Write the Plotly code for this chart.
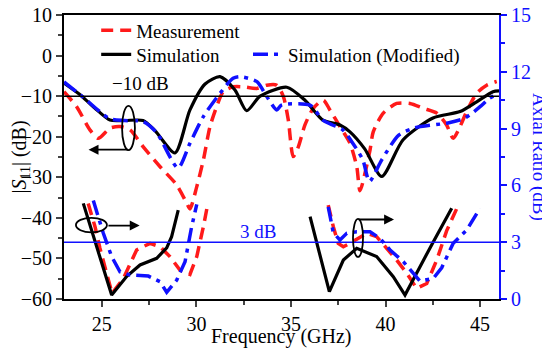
import plotly.graph_objects as go

# ---------------- data ----------------
# |S11| (dB) vs frequency (GHz)
meas_s11_f = [23.0, 23.67, 24.37, 24.81, 25.43, 25.96, 26.49, 27.19, 28.08, 28.96, 29.49, 29.66,
              30.02, 30.37, 30.72, 31.07, 31.42, 31.95, 32.48, 33.19, 33.72, 34.25, 34.6, 34.86,
              35.12, 35.39, 35.74, 36.18, 36.71, 37.06, 37.59, 38.12, 38.48, 38.65, 39.18, 39.35,
              39.88, 40.59, 41.29, 42.0, 42.71, 43.23, 43.58, 43.94, 44.29, 44.82, 45.35, 45.88]
meas_s11 = [-8.9, -12.6, -18.3, -20.4, -17.9, -17.5, -18.3, -22.5, -27.4, -31.9, -36.4, -37.8,
            -32.3, -25.7, -17.5, -12.6, -8.9, -7.7, -7.7, -8.1, -7.3, -7.3, -10.1, -15.9,
            -24.9, -22.5, -17.1, -13.0, -11.0, -13.4, -17.5, -21.6, -27.4, -33.3, -23.3, -18.8,
            -14.2, -11.8, -11.8, -13.0, -14.2, -17.1, -20.4, -17.5, -13.8, -9.3, -7.3, -6.4]

sim_s11_f = [23.0, 23.94, 24.64, 25.43, 26.22, 27.18, 27.81, 28.87, 29.66, 30.46, 31.25, 32.04,
             32.66, 33.37, 34.78, 35.74, 36.69, 37.59, 38.12, 38.9, 39.8, 40.92, 42.51, 43.94,
             44.82, 45.68, 46.0]
sim_s11 = [-6.8, -10.0, -13.0, -15.9, -16.0, -16.0, -18.5, -24.0, -13.4, -7.0, -5.2, -8.5,
           -13.6, -10.0, -7.8, -11.0, -15.9, -17.1, -18.8, -23.0, -29.8, -20.8, -15.4, -13.8,
           -11.4, -8.9, -8.7]

mod_s11_f = [23.0, 23.9, 25.4, 26.2, 27.2, 27.9, 29.03, 29.66, 30.36, 31.25, 31.94, 32.3, 33.2,
             33.72, 34.25, 34.5, 36.0, 36.69, 37.2, 37.74, 38.27, 38.8, 39.15, 39.8, 40.7,
             41.55, 43.3, 44.2, 45.0, 45.5, 45.85]
mod_s11 = [-6.5, -9.8, -15.5, -16.0, -16.3, -19.0, -27.7, -21.6, -15.1, -9.3, -5.6, -5.2, -6.4,
           -10.1, -13.4, -12.2, -12.2, -15.9, -17.1, -18.3, -21.6, -25.7, -31.0, -25.7, -19.6,
           -17.8, -16.6, -15.4, -12.6, -10.5, -9.7]

# Axial ratio (dB) vs frequency (GHz); None separates the two bands
meas_ar_f = [24.28, 24.64, 24.9, 25.26, 25.54, 26.14, 26.84, 27.55, 28.08, 28.6, 29.13, 29.66,
             30.02, 30.37, 30.59, None,
             36.97, 37.24, 37.5, 37.77, 38.12, 39.0, 39.53, 40.06, 40.59, 41.12, 41.65, 42.18,
             42.71, 43.23, 43.85]
meas_ar = [5.05, 3.82, 2.68, 1.36, 0.3, 1.09, 2.59, 2.94, 2.76, 2.24, 1.53, 1.3,
           2.24, 3.82, 4.96, None,
           4.96, 3.82, 2.94, 2.76, 2.94, 3.47, 3.29, 2.68, 2.06, 1.36, 0.56, 0.82,
           2.06, 3.6, 4.96]

sim_ar_f = [24.02, 25.52, 26.32, 27.02, 27.9, 28.43, 28.69, 29.04, None,
            36.01, 37.03, 37.77, 38.48, 39.53, 40.41, 41.03, 41.82, 42.53, 43.5]
sim_ar = [5.05, 0.21, 1.2, 1.8, 2.15, 2.7, 3.29, 4.7, None,
          4.35, 0.39, 2.06, 2.68, 2.24, 1.18, 0.21, 1.71, 3.03, 4.79]

mod_ar_f = [24.55, 25.08, 25.52, 25.96, 26.49, 27.46, 28.08, 28.43, 28.96, 29.4, 29.75, 30.02,
            None,
            36.97, 37.24, 37.59, 37.95, 38.48, 39.18, 39.71, 40.24, 40.94, 41.38, 41.82, 42.53,
            42.97, 43.58, 44.29, 44.99]
mod_ar = [5.2, 3.47, 2.24, 1.44, 1.27, 1.21, 0.91, 0.35, 1.0, 1.97, 3.82, 5.0,
          None,
          4.87, 3.5, 3.12, 3.47, 3.55, 3.55, 3.2, 2.59, 1.97, 1.44, 0.95, 1.09,
          1.65, 2.94, 3.64, 4.79]

names = ["Measurement", "Simulation", "Simulation (Modified)"]
ref_s11 = -10
ref_ar = 3

# ---------------- styles ----------------
FONT = "Liberation Serif, Times New Roman, serif"
RED, BLACK, BLUE = "#ff1a1a", "#000000", "#1010ff"
red_dash = "12px,7px"
blue_dash = "15px,6px,4px,6px"
FS = 20

fig = go.Figure()

fig.add_trace(go.Scatter(x=meas_s11_f, y=meas_s11, name=names[0], mode="lines",
                         line=dict(color=RED, width=3.5, dash=red_dash, shape="spline", smoothing=0.7),
                         legend="legend"))
fig.add_trace(go.Scatter(x=sim_s11_f, y=sim_s11, name=names[1], mode="lines",
                         line=dict(color=BLACK, width=3.2, shape="spline", smoothing=0.7),
                         legend="legend2"))
fig.add_trace(go.Scatter(x=mod_s11_f, y=mod_s11, name=names[2], mode="lines",
                         line=dict(color=BLUE, width=3.5, dash=blue_dash, shape="spline", smoothing=0.7),
                         legend="legend3"))

fig.add_trace(go.Scatter(x=meas_ar_f, y=meas_ar, yaxis="y2", mode="lines", showlegend=False,
                         line=dict(color=RED, width=3.5, dash=red_dash), connectgaps=False))
fig.add_trace(go.Scatter(x=sim_ar_f, y=sim_ar, yaxis="y2", mode="lines", showlegend=False,
                         line=dict(color=BLACK, width=3.2), connectgaps=False))
fig.add_trace(go.Scatter(x=mod_ar_f, y=mod_ar, yaxis="y2", mode="lines", showlegend=False,
                         line=dict(color=BLUE, width=3.5, dash=blue_dash), connectgaps=False))

# reference lines
fig.add_shape(type="line", xref="paper", x0=0, x1=1, yref="y", y0=ref_s11, y1=ref_s11,
              line=dict(color="black", width=1.5))
fig.add_shape(type="line", xref="paper", x0=0, x1=1, yref="y2", y0=ref_ar, y1=ref_ar,
              line=dict(color=BLUE, width=1.5))

# ellipses + arrows marking which axis each group belongs to
fig.add_shape(type="circle", xref="x", yref="y", x0=26.07, x1=26.75, y0=-12.4, y1=-23.3,
              line=dict(color="black", width=1.8))
fig.add_annotation(x=24.3, y=-23.2, ax=26.45, ay=-23.2, xref="x", yref="y", axref="x", ayref="y",
                   text="", showarrow=True, arrowhead=2, arrowsize=1.1, arrowwidth=1.8, arrowcolor="black")
fig.add_shape(type="circle", xref="x", yref="y2", x0=23.63, x1=25.27, y0=3.52, y1=4.29,
              line=dict(color="black", width=1.8))
fig.add_annotation(x=27.0, y=3.88, ax=25.27, ay=3.88, xref="x", yref="y2", axref="x", ayref="y2",
                   text="", showarrow=True, arrowhead=2, arrowsize=1.1, arrowwidth=1.8, arrowcolor="black")
fig.add_shape(type="circle", xref="x", yref="y2", x0=38.28, x1=38.81, y0=2.22, y1=4.23,
              line=dict(color="black", width=1.8))
fig.add_annotation(x=40.45, y=4.2, ax=38.5, ay=4.2, xref="x", yref="y2", axref="x", ayref="y2",
                   text="", showarrow=True, arrowhead=2, arrowsize=1.1, arrowwidth=1.8, arrowcolor="black")

fig.add_annotation(x=27.02, y=ref_s11, yref="y", xref="x", text="\u221210 dB", showarrow=False,
                   yanchor="bottom", yshift=0, font=dict(family=FONT, size=19, color="black"))
fig.add_annotation(x=33.25, y=ref_ar, yref="y2", xref="x", text="3 dB", showarrow=False,
                   yanchor="bottom", yshift=-2, font=dict(family=FONT, size=19, color=BLUE))

# axis titles as annotations for precise placement
fig.add_annotation(x=1.0, xref="paper", xshift=40, xanchor="center", y=0.5, yref="paper",
                   yanchor="middle", text="Axial Ratio (dB)",
                   textangle=90, showarrow=False, font=dict(family=FONT, size=19, color=BLUE))
fig.add_annotation(x=0.5, xref="paper", y=0, yref="paper", yshift=-37, xanchor="center",
                   yanchor="middle", text="Frequency (GHz)", showarrow=False,
                   font=dict(family=FONT, size=FS, color="black"))

leg_common = dict(xanchor="left", yanchor="middle", orientation="h",
                  bgcolor="rgba(0,0,0,0)", font=dict(size=19))

# the page body has an 8px default margin; margins below compensate so the
# plot area lands at x 64..499, y 15..299 in the 550x351 window
fig.update_layout(
    width=550, height=351,
    margin=dict(l=56, r=59, t=7, b=60, autoexpand=False),
    paper_bgcolor="white", plot_bgcolor="white",
    font=dict(family=FONT, size=FS, color="black"),
    xaxis=dict(range=[23, 46], tickvals=[25, 30, 35, 40, 45], ticks="outside", ticklen=6, tickwidth=1.5,
               minor=dict(tickvals=[27.5, 32.5, 37.5, 42.5], ticks="outside", ticklen=4, tickwidth=1.5),
               showline=True, linecolor="black", linewidth=2, mirror=True, showgrid=False, zeroline=False,
               tickfont=dict(size=FS), automargin=False, ticklabeloverflow="allow"),
    yaxis=dict(range=[-60, 10], tickvals=[-60, -50, -40, -30, -20, -10, 0, 10], ticks="outside",
               ticklen=6, tickwidth=1.5,
               minor=dict(dtick=5, ticks="outside", ticklen=4, tickwidth=1.5),
               showline=True, linecolor="black", linewidth=2, showgrid=False, zeroline=False,
               title=dict(text="|<i>S</i><sub>11</sub>| (dB)", font=dict(size=FS), standoff=0),
               tickfont=dict(size=FS), automargin=False, ticklabeloverflow="allow"),
    yaxis2=dict(range=[0, 15], tickvals=[0, 3, 6, 9, 12, 15], overlaying="y", side="right",
                ticks="outside", ticklen=6, tickwidth=1.5, tickcolor=BLUE,
                minor=dict(dtick=1.5, ticks="outside", ticklen=4, tickwidth=1.5, tickcolor=BLUE),
                showline=True, linecolor=BLUE, linewidth=2, showgrid=False, zeroline=False,
                tickfont=dict(size=FS, color=BLUE), automargin=False, ticklabeloverflow="allow"),
    legend=dict(x=0.074, y=0.946, **leg_common),
    legend2=dict(x=0.074, y=0.861, **leg_common),
    legend3=dict(x=0.423, y=0.861, **leg_common),
    showlegend=True,
)

fig.write_html("out.html")
